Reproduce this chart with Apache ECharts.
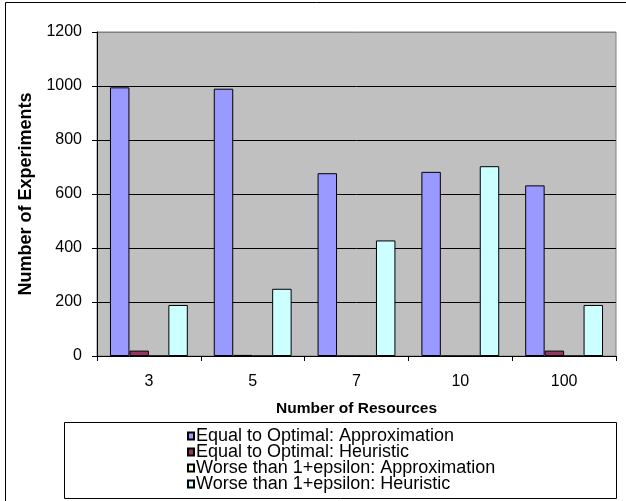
<!DOCTYPE html>
<html>
<head>
<meta charset="utf-8">
<script src="https://cdn.jsdelivr.net/npm/echarts@6/dist/echarts.min.js"></script>
<style>
html,body{margin:0;padding:0;background:#fff;}
#chart{width:626px;height:501px;}
</style>
</head>
<body>
<div id="chart"></div>
<script>
var categories = ['3', '5', '7', '10', '100'];
var seriesNames = [
  'Equal to Optimal: Approximation',
  'Equal to Optimal: Heuristic',
  'Worse than 1+epsilon: Approximation',
  'Worse than 1+epsilon: Heuristic'
];
var equalApprox = [995, 990, 677, 682, 632];
var equalHeuristic = [20, 4, 0, 0, 20];
var worseApprox = [0, 0, 0, 0, 0];
var worseHeuristic = [189, 249, 428, 703, 189];
var yTicks = [0, 200, 400, 600, 800, 1000, 1200];
var colors = ['#9999FF', '#993366', '#FFFFCC', '#CCFFFF'];
var allValues = [equalApprox, equalHeuristic, worseApprox, worseHeuristic];

var font = '"Liberation Sans", Arial, sans-serif';
var chart = echarts.init(document.getElementById('chart'), null, {renderer: 'canvas'});

var series = allValues.map(function (vals, i) {
  return {
    name: seriesNames[i],
    type: 'bar',
    data: vals,
    barGap: '0%',
    barCategoryGap: '25%',
    itemStyle: {color: colors[i], borderColor: '#000', borderWidth: 1},
    emphasis: {disabled: true},
    animation: false
  };
});

chart.setOption({
  animation: false,
  textStyle: {fontFamily: font, color: '#000'},
  graphic: [
    {type: 'rect', shape: {x: 5.5, y: 2.5, width: 700, height: 600},
     style: {fill: 'none', stroke: '#000', lineWidth: 1}, z: -1},
    {type: 'rect', shape: {x: 64.5, y: 422.5, width: 552, height: 76},
     style: {fill: '#fff', stroke: '#000', lineWidth: 1}, z: 0}
  ],
  grid: {
    left: 97, right: 10, top: 32, bottom: 145,
    show: true, backgroundColor: '#C0C0C0', borderColor: '#808080', borderWidth: 1
  },
  legend: {
    orient: 'vertical',
    left: 187, top: 427,
    padding: 0,
    itemGap: -2,
    itemWidth: 6, itemHeight: 7,
    icon: 'rect',
    data: seriesNames,
    textStyle: {fontFamily: font, fontSize: 18, lineHeight: 16, color: '#000', padding: [0, 0, 0, -3]},
    selectedMode: false,
    z: 5
  },
  xAxis: {
    type: 'category',
    data: categories,
    name: 'Number of Resources',
    nameLocation: 'middle',
    nameGap: 45,
    nameTextStyle: {fontFamily: font, fontSize: 15.5, fontWeight: 'bold', color: '#000'},
    axisLine: {lineStyle: {color: '#000', width: 1}},
    axisTick: {show: true, alignWithLabel: false, length: 5, lineStyle: {color: '#000'}},
    axisLabel: {fontFamily: font, fontSize: 16, color: '#000', margin: 18},
    splitLine: {show: false}
  },
  yAxis: {
    type: 'value',
    min: 0, max: 1200, interval: 200,
    name: 'Number of Experiments',
    nameLocation: 'middle',
    nameGap: 61,
    nameTextStyle: {fontFamily: font, fontSize: 18, fontWeight: 'bold', color: '#000'},
    axisLine: {show: true, lineStyle: {color: '#000', width: 1}},
    axisTick: {show: true, length: 5, lineStyle: {color: '#000'}},
    axisLabel: {fontFamily: font, fontSize: 16, color: '#000', margin: 15,
      formatter: function (v) { return yTicks.indexOf(v) >= 0 ? String(v) : ''; }},
    splitLine: {show: true, lineStyle: {color: ['#000', '#000', '#000', '#000', '#000', '#000', '#808080'], width: 1}}
  },
  series: series
});
</script>
</body>
</html>
